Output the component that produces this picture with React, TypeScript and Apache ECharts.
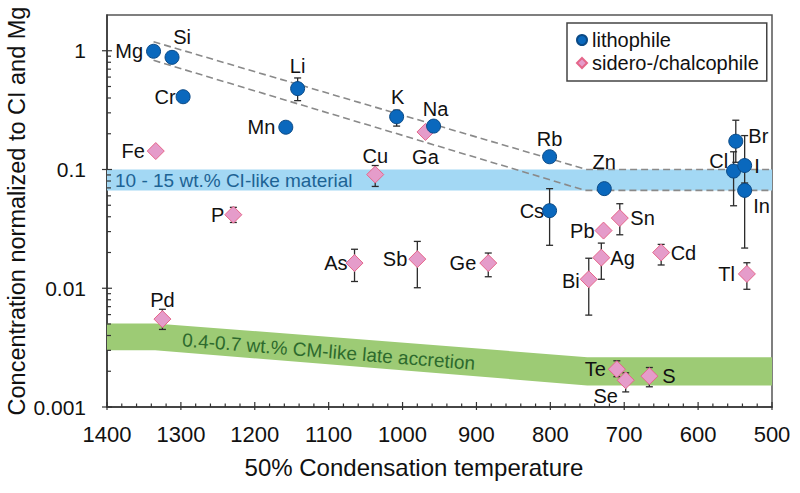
import React, { useEffect, useRef } from "react";
import * as echarts from "echarts";

// ---------- data ----------
const lithoNames = ["Mg", "Si", "Cr", "Li", "Mn", "K", "Na", "Rb", "Zn", "Cs", "Br", "Cl", "I", "In"];
const lithoTemps = [1337, 1312, 1297, 1142, 1158, 1008, 958, 801, 727, 801, 549, 552, 537, 537];
const lithoValues = [0.99, 0.88, 0.41, 0.48, 0.227, 0.278, 0.232, 0.128, 0.069, 0.045, 0.173, 0.097, 0.108, 0.0667];
const lithoErrLow = [null, null, null, 0.38, null, 0.232, null, null, null, 0.023, 0.115, 0.0495, 0.075, 0.0218];
const lithoErrHigh = [null, null, null, 0.59, null, 0.316, null, null, null, 0.069, 0.26, 0.141, 0.193, 0.077];

const sideroNames = ["Fe", "Cu", "Ga", "P", "As", "Sb", "Ge", "Pb", "Sn", "Ag", "Bi", "Cd", "Tl", "Pd", "Te", "Se", "S"];
const sideroTemps = [1334, 1037, 969, 1229, 1065, 980, 884, 728, 706, 731, 748, 650, 534, 1325, 710, 698, 666];
const sideroValues = [0.143, 0.0906, 0.207, 0.0416, 0.0163, 0.0176, 0.0163, 0.0306, 0.039, 0.0181, 0.0119, 0.02, 0.0132, 0.0055, 0.00208, 0.00168, 0.00182];
const sideroErrLow = [null, 0.072, null, 0.0358, 0.0114, 0.0101, 0.0125, null, 0.0282, 0.0119, 0.00594, 0.0157, 0.0098, 0.0045, 0.0018, 0.00134, 0.00148];
const sideroErrHigh = [null, 0.108, null, 0.048, 0.0213, 0.0248, 0.0198, null, 0.0515, 0.024, 0.0179, 0.0234, 0.0164, 0.00665, 0.00245, 0.00194, 0.00215];

const ciBandUpper = [[1400, 0.1], [500, 0.1]];
const ciBandLower = [[1400, 0.0667], [500, 0.0667]];
const cmBandUpper = [[1400, 0.00506], [1335, 0.00506], [750, 0.00263], [500, 0.00263]];
const cmBandLower = [[1400, 0.00301], [1335, 0.00301], [750, 0.00152], [500, 0.00152]];
const trendUpper = [[1337, 1.19], [751, 0.1], [500, 0.1]];
const trendLower = [[1337, 0.83], [753, 0.0667], [500, 0.0667]];

const xMin = 500;
const xMax = 1400;
const yMin = 0.001;
const yMax = 2;

const ciLabel = "10 - 15 wt.% CI-like material";
const cmLabel = "0.4-0.7 wt.% CM-like late accretion";
const xTitle = "50% Condensation temperature";
const yTitle = "Concentration normalized to CI and Mg";

// ---------- styles ----------
const FONT = '"Liberation Sans", Arial, Helvetica, sans-serif';

const labelPlacement: Record<string, any> = {
  Mg: { position: "left", distance: 3 },
  Si: { position: "top", distance: 3, offset: [10, 0] },
  Cr: { position: "left", distance: 0 },
  Li: { position: "top", distance: 5 },
  Mn: { position: "left", distance: 3 },
  K: { position: "top", distance: 2, offset: [1, 0] },
  Na: { position: "top", distance: 0, offset: [2, 0] },
  Rb: { position: "top", distance: 0 },
  Zn: { position: "top", distance: 9 },
  Cs: { position: "left", distance: -2 },
  Br: { position: "right", distance: 5, offset: [0, -5] },
  Cl: { position: "left", distance: -2, offset: [0, -10] },
  I: { position: "right", distance: 2 },
  In: { position: "right", distance: 1, offset: [0, 16] },
  Fe: { position: "left", distance: 2 },
  Cu: { position: "top", distance: 0 },
  Ga: { position: "bottom", distance: 6 },
  P: { position: "left", distance: 0 },
  As: { position: "left", distance: -2 },
  Sb: { position: "left", distance: 1 },
  Ge: { position: "left", distance: 3 },
  Pb: { position: "left", distance: 0 },
  Sn: { position: "right", distance: 1.5 },
  Ag: { position: "right", distance: 0 },
  Bi: { position: "left", distance: 0, offset: [0, 2] },
  Cd: { position: "right", distance: 0.5 },
  Tl: { position: "left", distance: 3 },
  Pd: { position: "top", distance: 0 },
  Te: { position: "left", distance: 2 },
  Se: { position: "bottom", distance: -3, offset: [-20, 0] },
  S: { position: "right", distance: 4 },
};

function scatterData(names: string[], temps: number[], values: number[]) {
  return names.map((n, i) => ({
    name: n,
    value: [temps[i], values[i]],
    label: labelPlacement[n] || {},
  }));
}

function errorSeries(temps: number[], lows: (number | null)[], highs: (number | null)[], z: number) {
  const data: number[][] = [];
  temps.forEach((t, i) => {
    if (lows[i] != null && highs[i] != null) data.push([t, lows[i] as number, highs[i] as number]);
  });
  return {
    type: "custom",
    coordinateSystem: "cartesian2d",
    silent: true,
    z,
    clip: false,
    encode: { x: 0, y: [1, 2] },
    data,
    renderItem: (_p: any, api: any) => {
      const x = api.value(0);
      const a = api.coord([x, api.value(2)]);
      const b = api.coord([x, api.value(1)]);
      const w = 3.5;
      const st = { stroke: "#2b2b2b", lineWidth: 1.3 };
      return {
        type: "group",
        children: [
          { type: "line", shape: { x1: a[0], y1: a[1], x2: b[0], y2: b[1] }, style: st },
          { type: "line", shape: { x1: a[0] - w, y1: a[1], x2: a[0] + w, y2: a[1] }, style: st },
          { type: "line", shape: { x1: b[0] - w, y1: b[1], x2: b[0] + w, y2: b[1] }, style: st },
        ],
      };
    },
  };
}

function bandSeries(upper: number[][], lower: number[][], fill: string, textFn: (api: any) => any) {
  return {
    type: "custom",
    coordinateSystem: "cartesian2d",
    silent: true,
    z: 1,
    clip: true,
    data: [upper[0]],
    renderItem: (_p: any, api: any) => {
      const pts = [
        ...upper.map((p) => api.coord(p)),
        ...lower.slice().reverse().map((p) => api.coord(p)),
      ];
      return {
        type: "group",
        children: [
          { type: "polygon", shape: { points: pts }, style: { fill } },
          textFn(api),
        ],
      };
    },
  };
}

// tick decorations (log minor ticks for y, 20-step minor ticks for x)
const yTickData: number[][] = [];
for (let e = -3; e <= 0; e++) {
  for (let k = 1; k <= 9; k++) {
    const v = k * Math.pow(10, e);
    if (v < yMax - 1e-9) yTickData.push([xMax, Number(v.toPrecision(6)), k === 1 ? 1 : 0]);
  }
}
const xTickData: number[][] = [];
for (let t = xMin; t <= xMax; t += 20) xTickData.push([t, yMin, t % 100 === 0 ? 1 : 0]);

const option: any = {
  animation: false,
  backgroundColor: "#ffffff",
  textStyle: { fontFamily: FONT },
  grid: {
    left: 107,
    right: 28,
    top: 15,
    bottom: 86,
    show: true,
    borderColor: "#555",
    borderWidth: 1.5,
    backgroundColor: "transparent",
  },
  xAxis: {
    type: "value",
    inverse: true,
    min: xMin,
    max: xMax,
    interval: 100,
    axisLine: { show: true, lineStyle: { color: "#333", width: 1.5 } },
    axisTick: { show: false },
    splitLine: { show: false },
    axisLabel: {
      fontSize: 22,
      color: "#111",
      margin: 16,
      fontFamily: FONT,
      formatter: (v: number) => String(v),
    },
  },
  yAxis: {
    type: "log",
    logBase: 10,
    min: yMin,
    max: yMax,
    axisLine: { show: true, lineStyle: { color: "#333", width: 1.5 } },
    axisTick: { show: false },
    splitLine: { show: false },
    minorTick: { show: false },
    axisLabel: {
      fontSize: 21,
      color: "#111",
      margin: 21,
      fontFamily: FONT,
      formatter: (v: number) => {
        const l = Math.log10(v);
        if (Math.abs(l - Math.round(l)) > 1e-6) return "";
        return String(Number(v.toPrecision(6)));
      },
    },
  },
  legend: {
    orient: "vertical",
    left: 567,
    top: 23,
    padding: [7, 8, 8, 9],
    itemWidth: 10,
    itemHeight: 10,
    itemGap: 3,
    borderColor: "#444",
    borderWidth: 1.5,
    backgroundColor: "#fff",
    textStyle: { fontSize: 20, lineHeight: 20, color: "#111", fontFamily: FONT },
    data: ["lithophile", "sidero-/chalcophile"],
  },
  graphic: [
    {
      type: "text",
      x: 414,
      y: 467,
      style: { text: xTitle, font: `24px ${FONT}`, fill: "#111", align: "center", verticalAlign: "middle" },
    },
    {
      type: "text",
      x: 17,
      y: 211,
      rotation: Math.PI / 2,
      style: { text: yTitle, font: `23.5px ${FONT}`, fill: "#111", align: "center", verticalAlign: "middle" },
    },
  ],
  series: [
    bandSeries(ciBandUpper, ciBandLower, "#a3d8f4", (api: any) => {
      const c = api.coord([xMax, Math.sqrt(ciBandUpper[0][1] * ciBandLower[0][1])]);
      return {
        type: "text",
        x: c[0] + 8,
        y: c[1] + 1,
        style: { text: ciLabel, font: `19px ${FONT}`, fill: "#1d6394", align: "left", verticalAlign: "middle" },
      };
    }),
    bandSeries(cmBandUpper, cmBandLower, "#9dcb75", (api: any) => {
      const u1 = api.coord(cmBandUpper[1]);
      const u2 = api.coord(cmBandUpper[2]);
      const l1 = api.coord(cmBandLower[1]);
      const l2 = api.coord(cmBandLower[2]);
      const cx = api.coord([1100, yMin])[0];
      const f = (cx - u1[0]) / (u2[0] - u1[0]);
      const yt = u1[1] + f * (u2[1] - u1[1]);
      const yb = l1[1] + f * (l2[1] - l1[1]);
      const ang = Math.atan2((u2[1] - u1[1] + l2[1] - l1[1]) / 2, u2[0] - u1[0]);
      return {
        type: "text",
        x: cx,
        y: (yt + yb) / 2 + 1,
        rotation: -ang,
        style: { text: cmLabel, font: `19px ${FONT}`, fill: "#2d6a2d", align: "center", verticalAlign: "middle" },
      };
    }),
    {
      type: "line",
      silent: true,
      z: 2,
      symbol: "none",
      data: trendUpper,
      lineStyle: { color: "#8a8a8a", width: 1.6, type: [7, 4] },
    },
    {
      type: "line",
      silent: true,
      z: 2,
      symbol: "none",
      data: trendLower,
      lineStyle: { color: "#8a8a8a", width: 1.6, type: [7, 4] },
    },
    errorSeries(sideroTemps, sideroErrLow, sideroErrHigh, 3),
    errorSeries(lithoTemps, lithoErrLow, lithoErrHigh, 3),
    {
      type: "scatter",
      name: "sidero-/chalcophile",
      symbol: "diamond",
      symbolSize: 17,
      z: 4,
      itemStyle: { color: "#e59cca", borderColor: "#e5668a", borderWidth: 1, opacity: 1 },
      label: { show: true, formatter: "{b}", fontSize: 20, color: "#111", fontFamily: FONT },
      data: scatterData(sideroNames, sideroTemps, sideroValues),
    },
    {
      type: "scatter",
      name: "lithophile",
      symbol: "circle",
      symbolSize: 14,
      z: 5,
      itemStyle: { color: "#0a68bd", borderColor: "#0b4a86", borderWidth: 1, opacity: 1 },
      label: { show: true, formatter: "{b}", fontSize: 20, color: "#111", fontFamily: FONT },
      data: scatterData(lithoNames, lithoTemps, lithoValues),
    },
    {
      type: "custom",
      coordinateSystem: "cartesian2d",
      silent: true,
      z: 6,
      clip: false,
      encode: { x: 0, y: 1 },
      data: yTickData,
      renderItem: (_p: any, api: any) => {
        const p = api.coord([api.value(0), api.value(1)]);
        const major = api.value(2) === 1;
        return {
          type: "line",
          shape: { x1: major ? p[0] - 5 : p[0], y1: p[1], x2: p[0] + (major ? 5 : 4), y2: p[1] },
          style: { stroke: "#333", lineWidth: 1.2 },
        };
      },
    },
    {
      type: "custom",
      coordinateSystem: "cartesian2d",
      silent: true,
      z: 6,
      clip: false,
      encode: { x: 0, y: 1 },
      data: xTickData,
      renderItem: (_p: any, api: any) => {
        const p = api.coord([api.value(0), api.value(1)]);
        const major = api.value(2) === 1;
        return {
          type: "line",
          shape: { x1: p[0], y1: p[1] - (major ? 5 : 3.5), x2: p[0], y2: p[1] + (major ? 3 : 0) },
          style: { stroke: "#333", lineWidth: 1.2 },
        };
      },
    },
  ],
};

export default function App() {
  const ref = useRef<HTMLDivElement>(null);
  useEffect(() => {
    if (!ref.current) return;
    const chart = echarts.init(ref.current, null, { renderer: "svg" });
    chart.setOption(option);
    return () => chart.dispose();
  }, []);
  return <div ref={ref} style={{ position: "fixed", left: 0, top: 0, width: 800, height: 493 }} />;
}
